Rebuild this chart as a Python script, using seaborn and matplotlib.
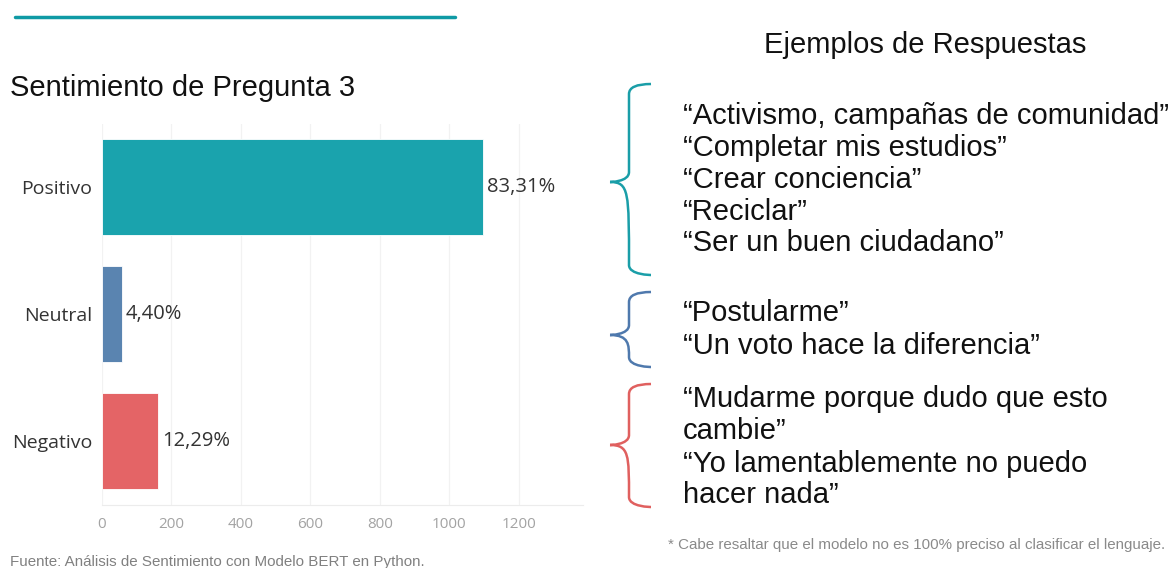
import numpy as np
import pandas as pd
import seaborn as sns
import matplotlib.pyplot as plt
from matplotlib.path import Path
from matplotlib.patches import PathPatch
from matplotlib.lines import Line2D

# data
sentimientos = ["Positivo", "Neutral", "Negativo"]
conteos = [1098, 58, 162]
etiquetas = ["83,31%", "4,40%", "12,29%"]
colores = ["#1aa3ad", "#5a84b0", "#e46466"]
xticks = [0, 200, 400, 600, 800, 1000, 1200]

ejemplos_pos = ["\u201cActivismo, campañas de comunidad\u201d",
                "\u201cCompletar mis estudios\u201d",
                "\u201cCrear conciencia\u201d",
                "\u201cReciclar\u201d",
                "\u201cSer un buen ciudadano\u201d"]
ejemplos_neu = ["\u201cPostularme\u201d",
                "\u201cUn voto hace la diferencia\u201d"]
ejemplos_neg = ["\u201cMudarme porque dudo que esto",
                "cambie\u201d",
                "\u201cYo lamentablemente no puedo",
                "hacer nada\u201d"]

df = pd.DataFrame({"sentimiento": sentimientos, "conteo": conteos})

sns.set_style("white")
plt.rcParams["font.family"] = ["Liberation Sans", "DejaVu Sans"]

W, H = 1172, 568
fig = plt.figure(figsize=(W / 100, H / 100), dpi=100)


def fx(px):
    return px / W


def fy(py):
    return 1 - py / H


ax = fig.add_axes([fx(102), fy(504.5), fx(583) - fx(102), fy(123.5) - fy(504.5)])
sns.barplot(data=df, y="sentimiento", x="conteo", hue="sentimiento",
            palette=colores, saturation=1, orient="h", width=0.75, ax=ax,
            legend=False, edgecolor="white", linewidth=0.6)
ax.set_xlim(0, 1385)
ax.set_xticks(xticks)
ax.set_xlabel("")
ax.set_ylabel("")
ax.grid(axis="x", color="#f2f2f2", linewidth=0.9)
ax.set_axisbelow(True)
for s in ["top", "right", "left"]:
    ax.spines[s].set_visible(False)
ax.spines["bottom"].set_color("#ececec")
ax.tick_params(axis="both", length=0)
ax.tick_params(axis="x", pad=9)
ax.tick_params(axis="y", pad=7)
for lab in ax.get_xticklabels():
    lab.set_fontfamily(["Open Sans", "DejaVu Sans"])
    lab.set_fontsize(11)
    lab.set_color("#a3a3a3")
for lab in ax.get_yticklabels():
    lab.set_fontfamily(["Open Sans", "DejaVu Sans"])
    lab.set_fontsize(14)
    lab.set_color("#333333")

for i, (v, t) in enumerate(zip(conteos, etiquetas)):
    ax.text(v + 10, i, t, va="center", ha="left", fontsize=14.5,
            color="#333333", family=["Open Sans", "DejaVu Sans"])

# header line and titles
fig.add_artist(Line2D([fx(15), fx(455)], [fy(17), fy(17)], color="#0f9aa5", linewidth=2.5))
fig.text(fx(10), fy(88), "Sentimiento de Pregunta 3", fontsize=21, va="center", ha="left", color="#111111")
fig.text(fx(925), fy(45), "Ejemplos de Respuestas", fontsize=21, va="center", ha="center", color="#111111")


def brace(top, bottom, tip, color):
    x_line, x_end, x_tip, r = 629, 651, 610, 10
    verts = [(x_end, top), (x_line, top), (x_line, top + r),
             (x_line, tip - r),
             (x_line, tip), (x_tip, tip), (x_tip, tip),
             (x_line, tip), (x_line, tip + r),
             (x_line, bottom - r),
             (x_line, bottom), (x_end, bottom), (x_end, bottom)]
    codes = [Path.MOVETO, Path.CURVE3, Path.CURVE3,
             Path.LINETO,
             Path.CURVE4, Path.CURVE4, Path.CURVE4,
             Path.CURVE4, Path.CURVE4, Path.CURVE4,
             Path.CURVE4, Path.CURVE4, Path.CURVE4]
    verts = [(fx(x), fy(y)) for x, y in verts]
    fig.add_artist(PathPatch(Path(verts, codes), facecolor="none", edgecolor=color,
                             linewidth=1.8, transform=fig.transFigure))


brace(84, 275, 182, "#1a9ea8")
brace(292, 367, 335, "#4f79ad")
brace(384, 507, 445, "#e0605f")


def lines(textos, ys):
    for t, y in zip(textos, ys):
        fig.text(fx(683), fy(y), t, fontsize=21, va="center", ha="left", color="#111111")


lines(ejemplos_pos, [116, 148, 180, 212, 243])
lines(ejemplos_neu, [313, 346])
lines(ejemplos_neg, [399, 431, 464, 495])

fig.text(fx(1165), fy(545), "* Cabe resaltar que el modelo no es 100% preciso al clasificar el lenguaje.",
         fontsize=10.9, color="#8a8a8a", ha="right", va="center")
fig.text(fx(10), fy(562), "Fuente: Análisis de Sentimiento con Modelo BERT en Python.",
         fontsize=10.9, color="#808080", ha="left", va="center")

fig.savefig("out.png", dpi=100)
